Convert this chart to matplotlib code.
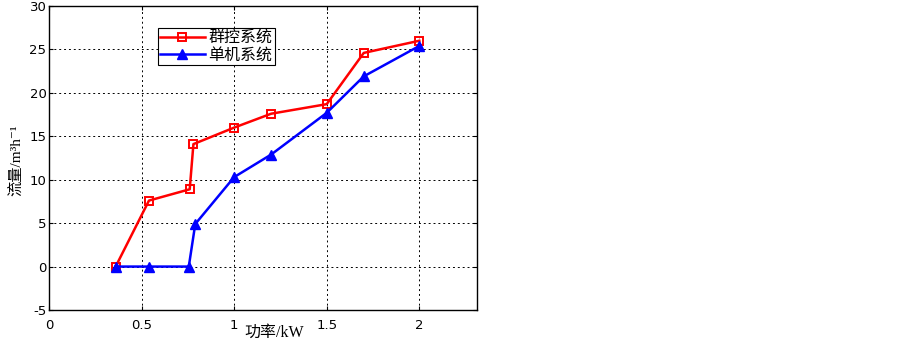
import matplotlib
matplotlib.use("Agg")
import matplotlib.pyplot as plt

plt.rcParams['font.family'] = ['DejaVu Sans', 'Noto Sans CJK SC']
plt.rcParams['axes.unicode_minus'] = False

series_names = ['群控系统', '单机系统']
group_x = [0.36, 0.54, 0.76, 0.78, 1.0, 1.2, 1.5, 1.7, 2.0]
group_y = [0.0, 7.6, 8.9, 14.1, 16.0, 17.6, 18.7, 24.6, 26.0]
single_x = [0.36, 0.54, 0.755, 0.79, 1.0, 1.2, 1.5, 1.7, 2.0]
single_y = [0.0, 0.0, 0.0, 4.9, 10.3, 12.9, 17.7, 21.9, 25.4]
x_label = '功率/kW'
y_label = '流量/m³h⁻¹'
xticks = [0, 0.5, 1, 1.5, 2]
xtick_labels = ['0', '0.5', '1', '1.5', '2']
yticks = [-5, 0, 5, 10, 15, 20, 25, 30]

fig = plt.figure(figsize=(9.03, 3.43), dpi=100)
ax = fig.add_axes([49/903, 33/343, 427.7/903, 304/343])

ax.plot(group_x, group_y, color='#ff0000', lw=1.8, marker='s', ms=6,
        mfc='none', mec='#ff0000', mew=1.4, label=series_names[0], zorder=3)
ax.plot(single_x, single_y, color='#0000ff', lw=1.8, marker='^', ms=7.5,
        mfc='#0000ff', mec='#0000ff', label=series_names[1], zorder=4)

ax.set_xlim(0, 2.31)
ax.set_ylim(-5, 30)
ax.set_xticks(xticks)
ax.set_xticklabels(xtick_labels)
ax.set_yticks(yticks)
ax.tick_params(direction='in', top=True, right=True, labelsize=9.5, length=3, width=0.8)
ax.tick_params(axis='x', pad=6.5)
ax.tick_params(axis='y', pad=1.8)
ax.grid(True, color='black', linestyle=(0, (2, 3)), linewidth=0.7)
ax.set_axisbelow(True)
for s in ax.spines.values():
    s.set_linewidth(1.0)

lab_font = ['Liberation Serif', 'Noto Sans CJK SC', 'DejaVu Serif']
ax.set_xlabel(x_label, fontsize=11.5, family=lab_font)
ax.xaxis.set_label_coords((274.3 - 49) / 427.7, (310 - 332.5) / 304)
ax.xaxis.label.set_va('center')
ax.set_ylabel(y_label, fontsize=11, family=lab_font)
ax.yaxis.set_label_coords((15.8 - 49) / 427.7, (310 - 160) / 304)
ax.yaxis.label.set_va('center')
ax.yaxis.label.set_ha('center')

leg = ax.legend(loc='center left', bbox_to_anchor=((158 - 49) / 427.7, (310 - 46.5) / 304),
                prop={'family': ['Noto Sans CJK SC'], 'size': 11.5},
                frameon=True, fancybox=False, edgecolor='black', framealpha=1,
                borderaxespad=0, borderpad=0.12, labelspacing=0.0,
                handlelength=2.8, handletextpad=0.25)
leg.get_frame().set_linewidth(0.8)

fig.savefig('out.png', dpi=100)
